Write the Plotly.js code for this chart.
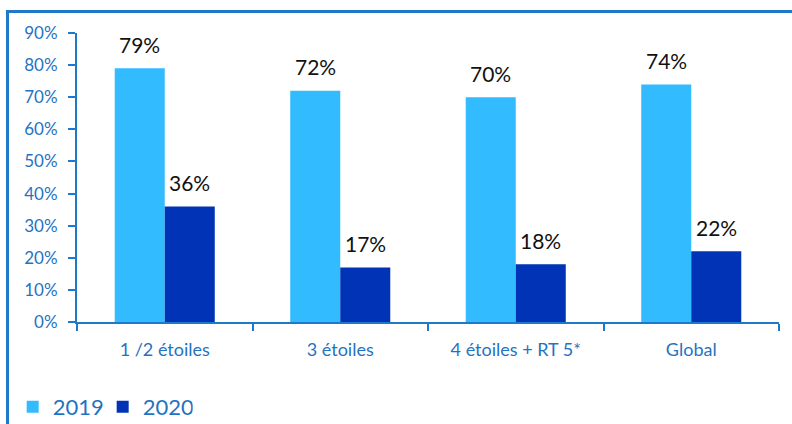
<!DOCTYPE html>
<html><head><meta charset="utf-8">
<script src="https://cdn.plot.ly/plotly-3.0.1.min.js"></script>
<style>
body{margin:0;background:#fff;}
#wrap{position:relative;width:792px;height:424px;overflow:hidden;}
#chart{position:absolute;left:0;top:0;width:792px;height:424px;}
#frame{position:absolute;left:6px;top:10px;width:800px;height:430px;border-top:3px solid #1F78C8;border-left:3px solid #1F78C8;pointer-events:none;}
</style></head>
<body><div id="wrap"><div id="chart"></div><div id="frame"></div></div>
<script>
const categories = ['1 /2 étoiles', '3 étoiles', '4 étoiles + RT 5*', 'Global'];
const series2019 = [79, 72, 70, 74];
const series2020 = [36, 17, 18, 22];
const seriesNames = ['2019', '2020'];
const yTickVals = [0,10,20,30,40,50,60,70,80,90];
const yTickText = yTickVals.map(v => v + '%');

const axisColor = '#1F78C8';
const textBlue = '#1F73C2';
const fontFam = 'Lato, "Open Sans", sans-serif';

const traces = [
  {type:'bar', x:categories, y:series2019, name:seriesNames[0], marker:{color:'#33BBFF'}},
  {type:'bar', x:categories, y:series2020, name:seriesNames[1], marker:{color:'#0033B5'}}
];

const annotations = [];
const offs = [-25, 25];
[series2019, series2020].forEach((s, si) => {
  s.forEach((v, i) => {
    annotations.push({x:categories[i], y:v, xref:'x', yref:'y', text:v + '%', showarrow:false,
      xshift:offs[si], yshift:24, font:{family:fontFam, size:21, color:'#111'}});
  });
});

const layout = {
  width:792, height:424,
  margin:{l:77, r:13, t:33, b:102, autoexpand:false},
  paper_bgcolor:'rgba(0,0,0,0)', plot_bgcolor:'rgba(0,0,0,0)',
  barmode:'group', bargap:0.43, bargroupgap:0,
  showlegend:true,
  legend:{orientation:'h', xref:'container', yref:'container', x:0.016, xanchor:'left', y:0.04, yanchor:'middle',
    font:{family:fontFam, size:22, color:textBlue}, itemwidth:30, traceorder:'normal',
    entrywidth:45, entrywidthmode:'pixels'},
  xaxis:{type:'category', showline:true, linecolor:axisColor, linewidth:2,
    ticks:'outside', tickson:'boundaries', ticklen:7, tickcolor:axisColor, tickwidth:2,
    ticklabelstandoff:10,
    tickfont:{family:fontFam, size:18, color:textBlue}, showgrid:false, zeroline:false, fixedrange:true},
  yaxis:{range:[0,90], showline:true, linecolor:axisColor, linewidth:2,
    ticks:'outside', ticklen:7, tickcolor:axisColor, tickwidth:2, ticklabelstandoff:7,
    tickvals:yTickVals, ticktext:yTickText, showgrid:false, zeroline:false,
    tickfont:{family:fontFam, size:17, color:textBlue}, fixedrange:true},
  annotations:annotations
};
Plotly.newPlot('chart', traces, layout, {staticPlot:true, displayModeBar:false});
</script></body></html>
